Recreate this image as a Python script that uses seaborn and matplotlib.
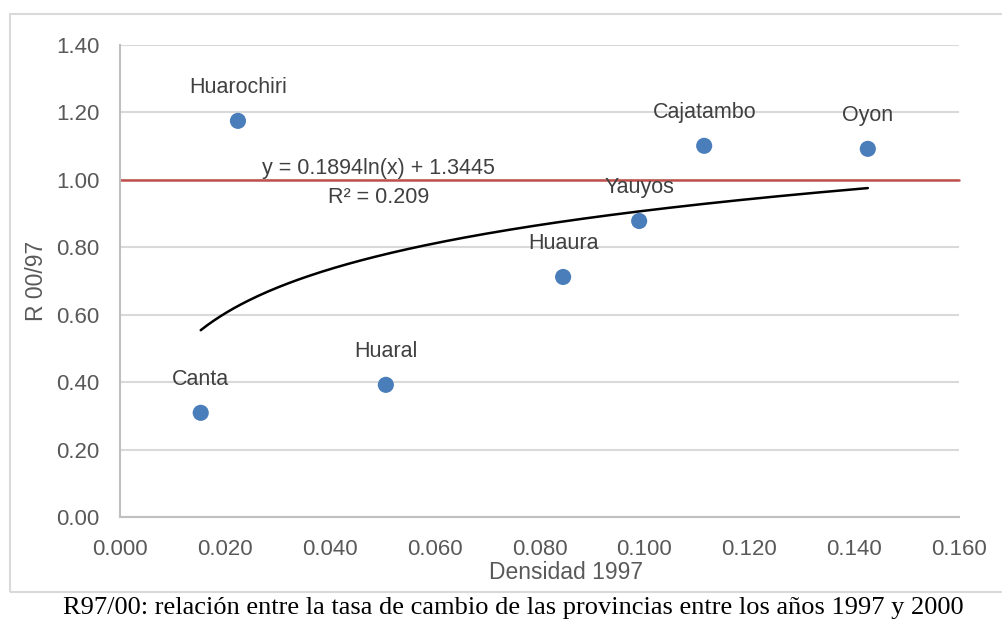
import matplotlib
matplotlib.use("Agg")

import matplotlib.pyplot as plt
import numpy as np
import pandas as pd
import seaborn as sns
from matplotlib.patches import Rectangle


PROVINCES = ["Canta", "Huarochiri", "Huaral", "Huaura", "Yauyos", "Cajatambo", "Oyon"]
DENSITY_1997 = [0.0154, 0.0225, 0.0507, 0.0845, 0.0990, 0.1114, 0.1426]
RATIO_00_97 = [0.309, 1.175, 0.392, 0.712, 0.878, 1.101, 1.092]

TREND_A = 0.1894
TREND_B = 1.3445
TREND_R2 = 0.209

X_TICKS = [0.000, 0.020, 0.040, 0.060, 0.080, 0.100, 0.120, 0.140, 0.160]
Y_TICKS = [0.00, 0.20, 0.40, 0.60, 0.80, 1.00, 1.20, 1.40]

CAPTION = "R97/00: relación entre la tasa de cambio de las provincias entre los años 1997 y 2000"


def main() -> None:
    sns.set_theme(style="white")
    plt.rcParams["font.family"] = ["Liberation Sans Narrow", "Liberation Sans", "DejaVu Sans"]

    df = pd.DataFrame({"Provincia": PROVINCES, "Densidad": DENSITY_1997, "R": RATIO_00_97})

    x_fit = np.linspace(min(DENSITY_1997), max(DENSITY_1997), 200)
    trend = pd.DataFrame({"x": x_fit, "y": TREND_A * np.log(x_fit) + TREND_B})

    fig = plt.figure(figsize=(10.03, 6.21), dpi=100)
    ax = fig.add_axes([0.1196, 0.1675, 0.8366, 0.76])

    grey_text = "#595959"
    ax.set_xlim(0, 0.16)
    ax.set_ylim(0, 1.4)
    ax.set_yticks(Y_TICKS)
    ax.set_xticks(X_TICKS)
    ax.set_yticklabels([f"{v:.2f}" for v in Y_TICKS])
    ax.set_xticklabels([f"{v:.3f}" for v in X_TICKS])
    ax.tick_params(axis="both", length=0, labelsize=16, colors=grey_text)
    ax.tick_params(axis="x", pad=16)
    ax.tick_params(axis="y", pad=15)
    ax.yaxis.grid(True, color="#d9d9d9", linewidth=1.5)
    ax.set_axisbelow(True)
    for side in ["top", "right"]:
        ax.spines[side].set_visible(False)
    for side in ["left", "bottom"]:
        ax.spines[side].set_color("#bfbfbf")
        ax.spines[side].set_linewidth(1.5)

    ax.axhline(1.0, color="#c0504d", linewidth=1.8, zorder=2, clip_on=False)

    sns.lineplot(data=trend, x="x", y="y", color="black", linewidth=1.8, ax=ax, zorder=3)
    sns.scatterplot(data=df, x="Densidad", y="R", s=135, color="#4a7ebb",
                    edgecolor="none", ax=ax, zorder=4)

    for _, row in df.iterrows():
        ax.annotate(row["Provincia"], (row["Densidad"], row["R"]),
                    xytext=(0, 24), textcoords="offset points",
                    ha="center", va="center", fontsize=15.5, color="#404040")

    ax.text(0.0493, 1.035, f"y = {TREND_A}ln(x) + {TREND_B}", ha="center", va="center",
            fontsize=15.5, color="#404040")
    ax.text(0.0493, 0.948, f"R² = {TREND_R2}", ha="center", va="center",
            fontsize=15.5, color="#404040")

    ax.set_xlabel("Densidad 1997", fontsize=16.5, color=grey_text, va="center")
    ax.set_ylabel("R 00/97", fontsize=16.5, color=grey_text, va="center")
    ax.xaxis.set_label_coords(0.531, -0.117)
    ax.yaxis.set_label_coords(-0.1, 0.5)

    fig.patches.append(Rectangle((10 / 1003, 1 - 592 / 621), 1.0, (592 - 14) / 621,
                                 transform=fig.transFigure, fill=False,
                                 edgecolor="#d9d9d9", linewidth=1.5))

    fig.text(513 / 1003, 1 - 608 / 621, CAPTION, ha="center", va="center",
             fontsize=19, family=["Liberation Serif", "DejaVu Serif"], color="black")

    fig.savefig("out.png", dpi=100)
    plt.close(fig)


if __name__ == "__main__":
    main()
